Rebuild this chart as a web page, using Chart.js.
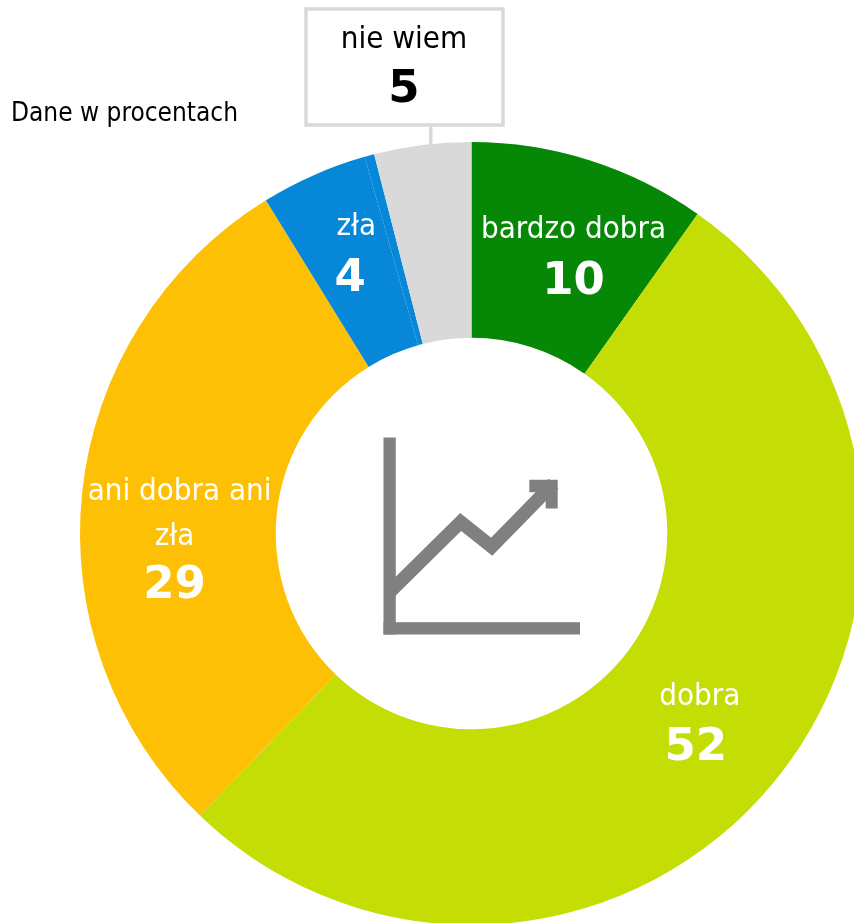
<!DOCTYPE html>
<html lang="pl">
<head>
    <meta charset="UTF-8">
    <title>Ocena</title>
    <style>
        html, body { margin: 0; padding: 0; background: #fff; overflow: hidden; width: 854px; height: 923px; }
        canvas { position: absolute; left: 0; top: 0; }
    </style>
    <script src="https://cdn.jsdelivr.net/npm/chart.js"></script>
</head>
<body>
    <canvas id="chart" width="880" height="960"></canvas>
    <script>
        // The blue slice has a thin extra sliver next to the grey one.
        const categories = ['bardzo dobra', 'dobra', 'ani dobra ani zła', 'zła', '', 'nie wiem'];
        const sliceShares = [9.8, 52.4, 29, 4.4, 0.4, 4];
        const printedValues = ['10', '52', '29', '4', '', '5'];
        const labelLines = [['bardzo dobra'], ['dobra'], ['ani dobra ani', 'zła'], ['zła'], [], []];
        const sliceColors = ['#068706', '#C4DD05', '#FDC005', '#0787D7', '#0787D7', '#D9D9D9'];

        // Offset of first text line from the centre of its arc, and nudge of the number
        const labelOffsets = [[13, -24], [2, -24], [0, -10], [3, -38], [0, 0], [0, 0]];
        const numberNudge = [[0, 3], [-4, 2], [-5, -1], [-6, 3], [0, 0], [0, 0]];

        const FONT = '"DejaVu Sans Condensed", "DejaVu Sans", sans-serif';

        const labelsPlugin = {
            id: 'sliceLabels',
            afterDatasetsDraw(chart) {
                const ctx = chart.ctx;
                const arcs = chart.getDatasetMeta(0).data;
                ctx.save();
                ctx.textAlign = 'center';
                ctx.textBaseline = 'middle';
                ctx.fillStyle = '#fff';
                arcs.forEach((arc, i) => {
                    if (!labelLines[i].length) return;
                    const c = arc.getCenterPoint();
                    const x = c.x + labelOffsets[i][0];
                    let y = c.y + labelOffsets[i][1];
                    ctx.font = '31px ' + FONT;
                    labelLines[i].forEach((line, k) => {
                        ctx.fillText(line, x - (k ? 5 : 0), y + k * 45);
                    });
                    y += (labelLines[i].length - 1) * 45 + 50;
                    ctx.font = 'bold 45px "DejaVu Sans", sans-serif';
                    ctx.fillText(printedValues[i], x + numberNudge[i][0], y + numberNudge[i][1]);
                });

                // callout for the grey slice
                ctx.fillStyle = '#D9D9D9';
                ctx.fillRect(429, 125, 3.5, 26);
                ctx.strokeStyle = '#D9D9D9';
                ctx.lineWidth = 3.5;
                ctx.fillStyle = '#fff';
                ctx.fillRect(306, 9, 197, 116);
                ctx.strokeRect(306, 9, 197, 116);
                ctx.fillStyle = '#000';
                ctx.font = '31px ' + FONT;
                ctx.fillText(categories[5], 404, 40);
                ctx.font = 'bold 45px "DejaVu Sans", sans-serif';
                ctx.fillText(printedValues[5], 404, 90);

                ctx.textAlign = 'left';
                ctx.font = '26px ' + FONT;
                ctx.fillText('Dane w procentach', 11, 114);
                ctx.restore();
            }
        };

        // Grey trend icon in the hole, placed relative to the centre of the ring
        const iconPlugin = {
            id: 'centerIcon',
            afterDatasetsDraw(chart) {
                const ctx = chart.ctx;
                const arc = chart.getDatasetMeta(0).data[0];
                ctx.save();
                ctx.translate(arc.x, arc.y);
                ctx.fillStyle = '#808080';
                ctx.strokeStyle = '#808080';
                ctx.fillRect(-88, -96, 12.3, 197);
                ctx.fillRect(-88, 88.7, 196.5, 12.3);
                ctx.lineWidth = 13.5;
                ctx.lineJoin = 'miter';
                ctx.beginPath();
                ctx.moveTo(-82, 58.7);
                ctx.lineTo(-10.8, -11.5);
                ctx.lineTo(20.2, 13.2);
                ctx.lineTo(82, -50);
                ctx.stroke();
                ctx.beginPath();
                ctx.moveTo(57.8, -53.7);
                ctx.lineTo(86.2, -53.7);
                ctx.lineTo(86.2, -25);
                ctx.lineTo(74.2, -25);
                ctx.lineTo(74.2, -41.3);
                ctx.lineTo(57.8, -41.3);
                ctx.closePath();
                ctx.fill();
                ctx.restore();
            }
        };

        new Chart(document.getElementById('chart').getContext('2d'), {
            type: 'doughnut',
            data: {
                labels: categories,
                datasets: [{
                    data: sliceShares,
                    backgroundColor: sliceColors,
                    borderWidth: 0
                }]
            },
            options: {
                responsive: false,
                animation: false,
                cutout: '50%',
                layout: { padding: { left: 80, top: 142, right: 17, bottom: 35 } },
                plugins: {
                    legend: { display: false },
                    tooltip: { enabled: false }
                }
            },
            plugins: [labelsPlugin, iconPlugin]
        });
    </script>
</body>
</html>
